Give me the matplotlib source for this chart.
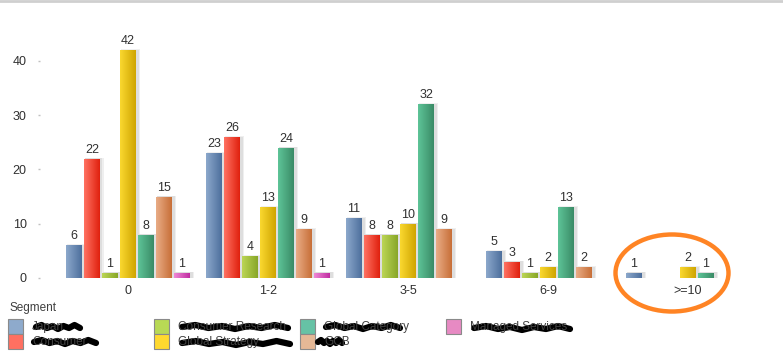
import numpy as np
import matplotlib
matplotlib.use('Agg')
import matplotlib.pyplot as plt
from matplotlib.colors import LinearSegmentedColormap
from matplotlib.patches import Rectangle, Ellipse
from matplotlib.lines import Line2D

plt.rcParams['font.family'] = ['Liberation Sans', 'DejaVu Sans']

# Data
categories = ['0', '1-2', '3-5', '6-9', '>=10']
segments = ['Japan', 'Consumer', 'Consumer Research', 'Global Strategy',
            'Global Category', 'GCB', 'Managed Services']
values = {
    'Japan':             [6, 23, 11, 5, 1],
    'Consumer':          [22, 26, 8, 3, 0],
    'Consumer Research': [1, 4, 8, 1, 0],
    'Global Strategy':   [42, 13, 10, 2, 2],
    'Global Category':   [8, 24, 32, 13, 1],
    'GCB':               [15, 9, 9, 2, 0],
    'Managed Services':  [1, 1, 0, 0, 0],
}
yticks = [0, 10, 20, 30, 40]

# (light, dark, legend swatch)
colors = {
    'Japan':             ('#8ca8cc', '#4d6f9c', '#8eaacc'),
    'Consumer':          ('#ff7262', '#e0200e', '#ff7061'),
    'Consumer Research': ('#bcd655', '#88a628', '#b8d955'),
    'Global Strategy':   ('#fad830', '#cfa500', '#ffd92f'),
    'Global Category':   ('#5ec498', '#3a8b66', '#66c2a5'),
    'GCB':               ('#e8ac86', '#c86f38', '#e5b896'),
    'Managed Services':  ('#f088d6', '#c02ea2', '#e78ac3'),
}

W, H = 783, 361
fig = plt.figure(figsize=(W / 100, H / 100), dpi=100)
ax = fig.add_axes([40 / W, 1 - 278 / H, (776 - 40) / W, (278 - 12) / H])

px = 1 / 140.0  # one pixel in category units
slot = 18 * px
bw = 16 * px
x = np.arange(len(categories))
n = len(segments)

ax.set_xlim(-88 * px, 4 + 88 * px)
ax.set_ylim(0, 266 / 5.43)
ypx = 1 / 5.43

grad = np.linspace(0, 1, 64).reshape(1, -1)
for j, seg in enumerate(segments):
    light, dark, _ = colors[seg]
    cmap = LinearSegmentedColormap.from_list(seg, [light, dark])
    for i, v in enumerate(values[seg]):
        if v == 0:
            continue
        left = x[i] + (j - 3) * slot - bw / 2
        # soft shadow
        ax.add_patch(Rectangle((left + 1 * px, 0), bw + 3 * px, v + 1 * ypx,
                               facecolor='#efefef', edgecolor='none', zorder=1))
        ax.add_patch(Rectangle((left + 1 * px, 0), bw + 1.5 * px, v + 0.3 * ypx,
                               facecolor='#dedede', edgecolor='none', zorder=1))
        rect = Rectangle((left, 0), bw, v, facecolor='none', edgecolor='none', zorder=2)
        ax.add_patch(rect)
        im = ax.imshow(grad, cmap=cmap, extent=[left, left + bw, 0, v],
                       aspect='auto', zorder=2, interpolation='bilinear')
        im.set_clip_path(rect)
        ax.text(left + bw / 2, v + 3 * ypx, str(v), ha='center', va='bottom',
                fontsize=9, color='#303030', zorder=3)

ax.set_xlim(-88 * px, 4 + 88 * px)
ax.set_ylim(0, 266 / 5.43)
ax.set_xticks(x)
ax.set_xticklabels(categories)
ax.set_yticks(yticks)
ax.tick_params(axis='x', length=0, pad=5, labelsize=9, labelcolor='#303030')
ax.tick_params(axis='y', length=1.5, width=1, color='#c0c0c0', pad=8,
               labelsize=9, labelcolor='#303030')
for s in ax.spines.values():
    s.set_visible(False)

# Legend
fig.text(10 / W, 1 - 308 / H, 'Segment', fontsize=8.5, color='#404040', va='center')
col_x = [8, 154, 300, 446]
row_y = [319, 334]
for k, seg in enumerate(segments):
    cx = col_x[k // 2]
    ry = row_y[k % 2]
    fig.patches.append(Rectangle((cx / W, 1 - (ry + 15) / H), 15 / W, 15 / H,
                                 transform=fig.transFigure, facecolor=colors[seg][2],
                                 edgecolor='#8a8a8a', linewidth=0.8))
    fig.text((cx + 24) / W, 1 - (ry + 8) / H, seg, fontsize=8.5, color='#404040', va='center')

# scribbles over legend names
scribbles = [(36, 80, 327), (34, 96, 342), (182, 288, 327), (182, 290, 343),
             (326, 400, 327), (318, 342, 342), (474, 570, 328)]
for x0, x1, yy in scribbles:
    xs = np.linspace(x0, x1, 9)
    ys = yy + np.array([0, -2, 1, -1, 2, -1, 1, -2, 1])
    fig.lines.append(Line2D(xs / W, 1 - ys / H, transform=fig.transFigure,
                            color='black', linewidth=4.5, solid_capstyle='round'))

# orange ellipse annotation
fig.patches.append(Ellipse((672 / W, 1 - 273 / H), 113 / W, 77 / H,
                           transform=fig.transFigure, facecolor='none',
                           edgecolor='#ff8424', linewidth=3.2))

# window border at top
fig.lines.append(Line2D([0, 1], [1 - 1 / H, 1 - 1 / H], transform=fig.transFigure,
                        color='#cfcfcf', linewidth=2))

fig.savefig('out.png', dpi=100)
